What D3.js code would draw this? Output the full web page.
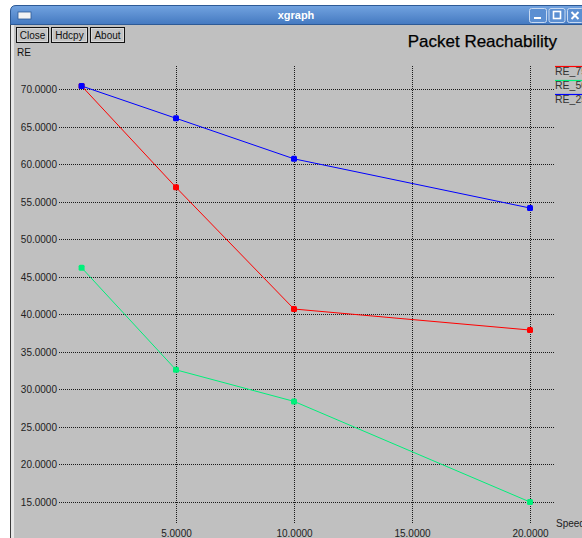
<!DOCTYPE html>
<html><head><meta charset="utf-8">
<script src="https://cdn.jsdelivr.net/npm/d3@7"></script>
<style>
html,body{margin:0;padding:0;background:#fff;overflow:hidden;}
svg{display:block;}
text{font-family:"Liberation Sans",Arial,sans-serif;}
</style></head>
<body>
<script>
// ---- data ----
const xValues = [1, 5, 10, 20];
const seriesNames = ["RE_75", "RE_50", "RE_25"];
const re75 = [70.4, 56.9, 40.7, 37.9];
const re50 = [46.2, 32.6, 28.4, 15.0];
const re25 = [70.4, 66.1, 60.7, 54.15];
const seriesColors = ["#ff0000", "#00f07a", "#0000ff"];
const yTicks = [15, 20, 25, 30, 35, 40, 45, 50, 55, 60, 65, 70];
const xTicks = [5, 10, 15, 20];
const titleText = "Packet Reachability";
const yAxisLabel = "RE";
const xAxisLabel = "Speed";
const buttonLabels = ["Close", "Hdcpy", "About"];

const W = 582, H = 538;
const svg = d3.select("body").append("svg").attr("width", W).attr("height", H);

// window frame
svg.append("rect").attr("x", 0).attr("y", 0).attr("width", W).attr("height", H).attr("fill", "#ffffff");
svg.append("rect").attr("x", 10).attr("y", 20).attr("width", W - 10).attr("height", H - 20).attr("fill", "#c0c0c0");
svg.append("rect").attr("x", 10).attr("y", 20).attr("width", 4).attr("height", H - 20).attr("fill", "#e6e6e6");
svg.append("line").attr("x1", 10.5).attr("x2", 10.5).attr("y1", 20).attr("y2", H).attr("stroke", "#3a3a3a");

// title bar
const defs = svg.append("defs");
const grad = defs.append("linearGradient").attr("id", "tb").attr("x1", 0).attr("x2", 0).attr("y1", 0).attr("y2", 1);
grad.append("stop").attr("offset", "0%").attr("stop-color", "#72a3e0");
grad.append("stop").attr("offset", "100%").attr("stop-color", "#4479c0");
svg.append("path")
  .attr("d", `M10.5,24.5 L10.5,11 Q10.5,5.5 16,5.5 L${W + 1},5.5 L${W + 1},24.5 Z`)
  .attr("fill", "url(#tb)").attr("stroke", "#2d5a96");
svg.append("rect").attr("x", 18).attr("y", 12).attr("width", 13).attr("height", 7)
  .attr("fill", "#f4f4f4").attr("stroke", "#2d5a96").attr("stroke-width", 0.8);
svg.append("text").attr("x", 296).attr("y", 19).attr("text-anchor", "middle")
  .attr("font-size", 11).attr("font-weight", "bold").attr("fill", "#ffffff").text("xgraph");
const wbtn = [[529.5, 17], [549, 16], [567.5, 16]];
wbtn.forEach((b, i) => {
  svg.append("rect").attr("x", b[0]).attr("y", 8.5).attr("width", b[1]).attr("height", 14).attr("rx", 2)
    .attr("fill", "#5b8fd2").attr("stroke", "#c8daf2").attr("stroke-width", 1);
});
svg.append("rect").attr("x", 534).attr("y", 17).attr("width", 7).attr("height", 2).attr("fill", "#fff");
svg.append("rect").attr("x", 553.5).attr("y", 11.5).attr("width", 7).attr("height", 7).attr("fill", "none").attr("stroke", "#fff").attr("stroke-width", 1.6);
svg.append("path").attr("d", "M571.5,12 L578.5,19 M578.5,12 L571.5,19").attr("stroke", "#fff").attr("stroke-width", 2);

// buttons
const btnX = [[16.5, 32], [51.5, 36], [90.5, 34]];
buttonLabels.forEach((lbl, i) => {
  const [bx, bw] = btnX[i];
  svg.append("rect").attr("x", bx).attr("y", 27.5).attr("width", bw).attr("height", 15)
    .attr("fill", "#c4c4c4").attr("stroke", "#111");
  svg.append("rect").attr("x", bx + 1).attr("y", 28.5).attr("width", bw - 2).attr("height", 13)
    .attr("fill", "none").attr("stroke", "#e8e8e8").attr("stroke-width", 0.6);
  svg.append("text").attr("x", bx + bw / 2).attr("y", 39).attr("text-anchor", "middle")
    .attr("font-size", 10).attr("fill", "#111").text(lbl);
});

// title + axis label
svg.append("text").attr("x", 557).attr("y", 47).attr("text-anchor", "end")
  .attr("font-size", 17).attr("fill", "#000").attr("stroke", "#000").attr("stroke-width", 0.25)
  .text(titleText);
svg.append("text").attr("x", 17).attr("y", 56).attr("font-size", 10).attr("fill", "#111").text(yAxisLabel);

// scales
const x = d3.scaleLinear().domain([0, 20]).range([58, 530]);
const y = d3.scaleLinear().domain([15, 70]).range([502, 89]);

// horizontal grid + y labels
const g = svg.append("g");
yTicks.forEach(t => {
  const yy = Math.round(y(t)) + 0.5;
  g.append("line").attr("x1", 59).attr("x2", 554).attr("y1", yy).attr("y2", yy)
    .attr("stroke", "#1a1a1a").attr("stroke-dasharray", "1,1");
  g.append("text").attr("x", 57).attr("y", yy + 3.5).attr("text-anchor", "end")
    .attr("font-size", 10).attr("fill", "#222").text(t.toFixed(4));
});
// vertical grid + x labels
xTicks.forEach(t => {
  const xx = Math.round(x(t)) + 0.5;
  g.append("line").attr("x1", xx).attr("x2", xx).attr("y1", 66).attr("y2", 523)
    .attr("stroke", "#1a1a1a").attr("stroke-dasharray", "1,1");
  g.append("text").attr("x", xx).attr("y", 537).attr("text-anchor", "middle")
    .attr("font-size", 10).attr("fill", "#222").text(t.toFixed(4));
});
svg.append("text").attr("x", 556).attr("y", 527).attr("font-size", 10).attr("fill", "#222").text(xAxisLabel);

// series
const allSeries = [re75, re50, re25];
const line = d3.line().x((d, i) => x(xValues[i])).y(d => y(d));
allSeries.forEach((vals, s) => {
  svg.append("path").datum(vals).attr("d", line).attr("fill", "none")
    .attr("stroke", seriesColors[s]).attr("stroke-width", 1);
  svg.selectAll(null).data(vals).enter().append("rect")
    .attr("x", (d, i) => x(xValues[i]) - 3).attr("y", d => y(d) - 3)
    .attr("width", 6).attr("height", 6).attr("rx", 1.5)
    .attr("fill", seriesColors[s]);
});

// legend
const legY = [66, 80, 94];
seriesNames.forEach((n, i) => {
  svg.append("line").attr("x1", 555).attr("x2", W).attr("y1", legY[i] + 0.5).attr("y2", legY[i] + 0.5)
    .attr("stroke", seriesColors[i]).attr("stroke-width", 1.2);
  svg.append("text").attr("x", 555).attr("y", legY[i] + 9).attr("font-size", 10.5)
    .attr("fill", "#333").text(n);
});
</script>
</body></html>
